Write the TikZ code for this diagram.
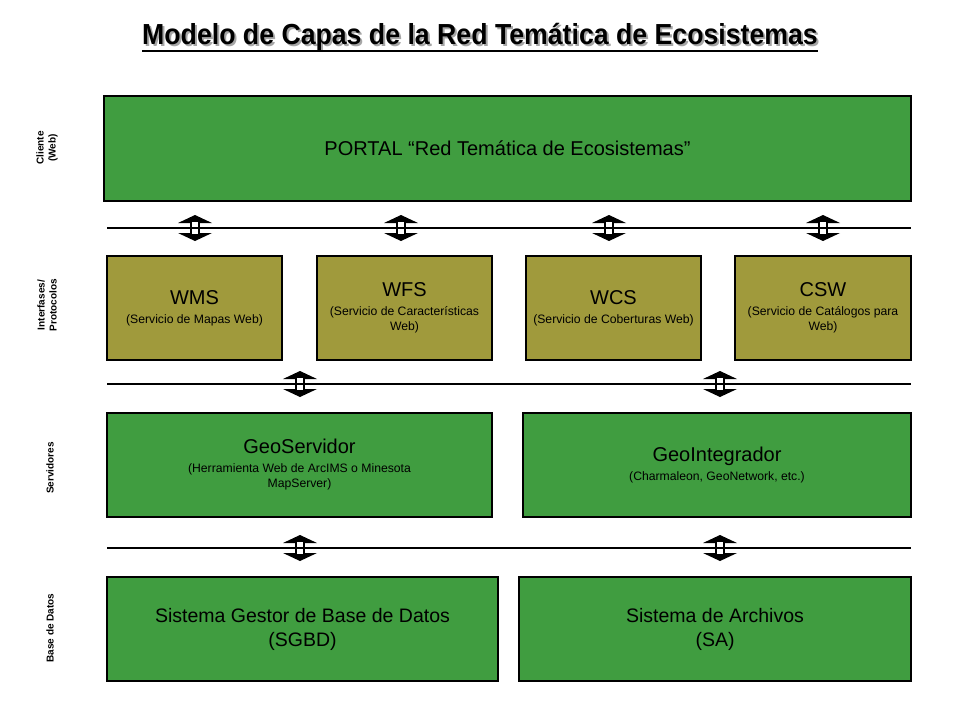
\documentclass[tikz,border=0pt]{standalone}
\usepackage{fontspec}
\setmainfont{Liberation Sans}
\definecolor{layergreen}{RGB}{64,157,64}
\definecolor{layerolive}{RGB}{160,154,60}
\tikzset{
  layerbox/.style={draw=black, line width=2.2pt, fill=layergreen, inner sep=0pt},
  ifacebox/.style={draw=black, line width=2.2pt, fill=layerolive, inner sep=0pt},
  boxtext/.style={align=center, font=\fontsize{12.2}{15}\selectfont},
  dbtext/.style={align=center, font=\fontsize{19.5}{24}\selectfont},
  sidelabel/.style={rotate=90, align=center, font=\bfseries\fontsize{10}{12}\selectfont},
  busline/.style={line width=2pt},
  busarrow/.pic={
    \fill[black] (-17,-5) -- (0,-13) -- (17,-5) -- cycle;
    \fill[black] (-17,5) -- (0,13) -- (17,5) -- cycle;
    \draw[fill=white, line width=1.2pt] (-4,-7) rectangle (4,7);
    \draw[line width=1.6pt] (-4,0) -- (4,0);
  }
}
\newcommand{\bigtxt}[1]{{\fontsize{20}{22}\selectfont #1}}
\begin{document}
\begin{tikzpicture}[x=1pt, y=-1pt]
  \useasboundingbox[fill=white] (0,0) rectangle (960,720);
  % title
  \node[text=black!35, xscale=0.92, transform shape, font=\bfseries\fontsize{29}{32}\selectfont] at (482,39) {Modelo de Capas de la Red Temática de Ecosistemas};
  \node (title) [xscale=0.92, transform shape, font=\bfseries\fontsize{29}{32}\selectfont] at (480,37) {Modelo de Capas de la Red Temática de Ecosistemas};
  \draw[line width=2pt] (142,51) -- (818,51);
  % layer labels
  \node (lcli) [sidelabel] at (47,148) {Cliente\\(Web)};
  \node (lint) [sidelabel] at (47,305) {Interfases/\\Protocolos};
  \node (lsrv) [sidelabel] at (50,468) {Servidores};
  \node (lbd) [sidelabel] at (50,628) {Base de Datos};
  % boxes
  \draw[layerbox] (104,96) rectangle (911,201) node (portal) [midway, font=\fontsize{20}{22}\selectfont] {PORTAL “Red Temática de Ecosistemas”};
  \draw[ifacebox] (107,256) rectangle (282,360) node (wms) [midway, boxtext] {\bigtxt{WMS}\\[4pt](Servicio de Mapas Web)};
  \draw[ifacebox] (317,256) rectangle (492,360) node (wfs) [midway, boxtext] {\bigtxt{WFS}\\[4pt](Servicio de Características\\Web)};
  \draw[ifacebox] (526,256) rectangle (701,360) node (wcs) [midway, boxtext] {\bigtxt{WCS}\\[4pt](Servicio de Coberturas Web)};
  \draw[ifacebox] (735,256) rectangle (911,360) node (csw) [midway, boxtext] {\bigtxt{CSW}\\[4pt](Servicio de Catálogos para\\Web)};
  \draw[layerbox] (107,413) rectangle (492,517) node (geosrv) [midway, boxtext] {\bigtxt{GeoServidor}\\[4pt](Herramienta Web de ArcIMS o Minesota\\MapServer)};
  \draw[layerbox] (523,413) rectangle (911,517) node (geoint) [midway, boxtext] {\bigtxt{GeoIntegrador}\\[4pt](Charmaleon, GeoNetwork, etc.)};
  \draw[layerbox] (107,577) rectangle (498,681) node (sgbd) [midway, dbtext] {Sistema Gestor de Base de Datos\\(SGBD)};
  \draw[layerbox] (519,577) rectangle (911,681) node (sa) [midway, dbtext] {Sistema de Archivos\\(SA)};
  % buses
  \begin{scope}[busline]
    \draw (107,228) coordinate (bus1w) -- (911,228) coordinate (bus1e);
    \draw (107,384) coordinate (bus2w) -- (911,384) coordinate (bus2e);
    \draw (107,548) coordinate (bus3w) -- (911,548) coordinate (bus3e);
  \end{scope}
  \foreach \x in {195,401,609,823}
    \pic at (\x,228) {busarrow};
  \foreach \x in {300,720}
    \pic at (\x,384) {busarrow};
  \foreach \x in {300,720}
    \pic at (\x,548) {busarrow};
\end{tikzpicture}
\end{document}
